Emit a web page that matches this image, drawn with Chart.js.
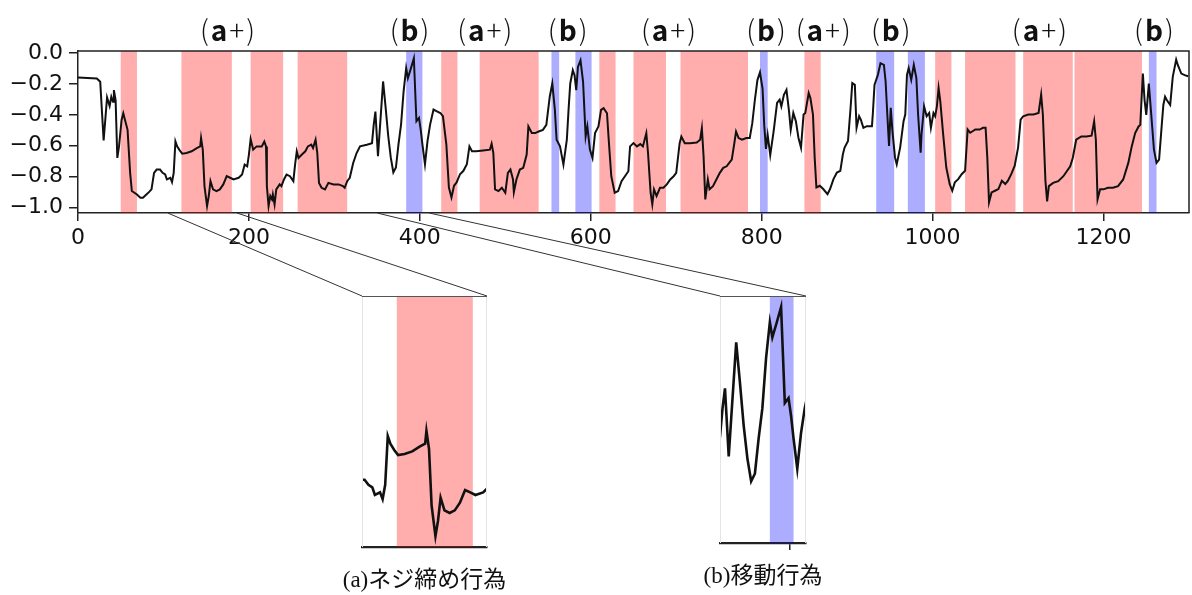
<!DOCTYPE html>
<html>
<head>
<meta charset="utf-8">
<script src="https://cdn.jsdelivr.net/npm/chart.js@4.4.1/dist/chart.umd.min.js"></script>
<style>
  html, body { margin: 0; padding: 0; background: #fff; }
  #wrap { position: relative; width: 1192px; height: 595px; overflow: hidden; }
  canvas { position: absolute; }
</style>
</head>
<body>
<div id="wrap">
  <canvas id="main" width="1192" height="595" style="left:0;top:0"></canvas>
  <canvas id="insetA" width="133" height="267" style="left:358px;top:292px"></canvas>
  <canvas id="insetB" width="94" height="263" style="left:716px;top:292px"></canvas>
</div>
<script>
// sample index / value of the trace
const seriesX = [
  0, 22, 26, 30, 34, 37, 39, 41, 42, 44,
  46, 48, 51, 53, 55, 58, 61, 63, 69, 73,
  76, 80, 83, 86, 89, 92, 96, 99, 102, 104,
  108, 110, 112, 114, 116, 119, 122, 127, 133, 139,
  143, 144, 146, 148, 151, 153, 155, 158, 162, 166,
  170, 174, 178, 182, 188, 192, 195, 198, 200, 202,
  205, 209, 215, 218, 220, 221, 223, 225, 227, 228,
  230, 232, 236, 238, 241, 244, 248, 252, 254, 256,
  258, 262, 266, 269, 273, 275, 278, 280, 282, 285,
  289, 293, 299, 305, 310, 312, 315, 318, 322, 326,
  330, 338, 344, 346, 348, 351, 353, 357, 360, 363,
  366, 369, 372, 375, 378, 381, 384, 386, 389, 393,
  396, 399, 401, 403, 406, 409, 412, 416, 420, 424,
  427, 431, 434, 437, 440, 443, 447, 451, 455, 458,
  461, 466, 474, 482, 484, 486, 488, 492, 496, 500,
  503, 506, 509, 510, 513, 517, 521, 525, 527, 531,
  535, 539, 544, 548, 552, 555, 558, 560, 564, 568,
  572, 574, 576, 579, 581, 583, 585, 588, 591, 594,
  596, 599, 602, 605, 609, 612, 615, 619, 621, 624,
  628, 632, 636, 640, 644, 646, 650, 654, 658, 661,
  665, 667, 670, 672, 674, 677, 681, 685, 689, 693,
  697, 700, 704, 706, 710, 716, 724, 728, 730, 732,
  734, 737, 739, 743, 747, 751, 755, 759, 762, 765,
  768, 770, 773, 777, 782, 786, 789, 792, 795, 798,
  801, 803, 805, 807, 810, 814, 818, 821, 823, 826,
  829, 832, 834, 837, 840, 843, 846, 849, 851, 855,
  857, 860, 862, 864, 868, 872, 877, 880, 884, 888,
  892, 895, 897, 901, 904, 906, 909, 911, 914, 916,
  919, 923, 929, 930, 932, 934, 936, 939, 943, 945,
  947, 949, 951, 953, 956, 958, 962, 966, 968, 970,
  972, 975, 978, 981, 983, 986, 987, 990, 993, 996,
  998, 1001, 1003, 1005, 1007, 1009, 1012, 1016, 1020, 1023,
  1026, 1030, 1034, 1038, 1041, 1044, 1050, 1055, 1059, 1062,
  1064, 1066, 1069, 1073, 1077, 1081, 1085, 1088, 1092, 1096,
  1100, 1103, 1106, 1112, 1118, 1124, 1127, 1129, 1132, 1134,
  1136, 1141, 1147, 1153, 1157, 1161, 1164, 1168, 1174, 1180,
  1186, 1189, 1191, 1193, 1196, 1200, 1205, 1211, 1217, 1223,
  1229, 1233, 1237, 1241, 1243, 1246, 1248, 1250, 1253, 1256,
  1259, 1262, 1265, 1268, 1270, 1272, 1274, 1278, 1281, 1285,
  1287, 1291, 1295, 1299
];
const seriesY = [
  -0.158, -0.165, -0.186, -0.566, -0.287, -0.343, -0.283, -0.315, -0.24, -0.304,
  -0.679, -0.604, -0.433, -0.39, -0.433, -0.497, -0.775, -0.893, -0.915, -0.936,
  -0.936, -0.915, -0.9, -0.882, -0.775, -0.754, -0.754, -0.775, -0.786, -0.818,
  -0.807, -0.835, -0.775, -0.572, -0.604, -0.63, -0.651, -0.647, -0.636, -0.615,
  -0.604, -0.55, -0.625, -0.861, -0.99, -0.925, -0.829, -0.882, -0.893, -0.882,
  -0.85, -0.797, -0.807, -0.818, -0.807, -0.786, -0.722, -0.733, -0.657, -0.557,
  -0.625, -0.604, -0.604, -0.572, -0.604, -0.861, -0.99, -0.925, -0.947, -0.915,
  -0.979, -0.882, -0.85, -0.861, -0.818, -0.786, -0.797, -0.829, -0.722, -0.636,
  -0.679, -0.657, -0.636, -0.604, -0.593, -0.615, -0.561, -0.647, -0.84, -0.872,
  -0.882, -0.84, -0.85, -0.85, -0.861, -0.872, -0.829, -0.807, -0.711, -0.647,
  -0.604, -0.593, -0.583, -0.465, -0.379, -0.668, -0.505, -0.184, -0.355, -0.537,
  -0.677, -0.773, -0.741, -0.591, -0.463, -0.248, -0.098, -0.163, -0.109, -0.034,
  -0.441, -0.42, -0.495, -0.591, -0.72, -0.569, -0.463, -0.366, -0.377, -0.388,
  -0.409, -0.591, -0.87, -0.934, -0.859, -0.837, -0.784, -0.762, -0.72, -0.604,
  -0.636, -0.636, -0.63, -0.625, -0.587, -0.647, -0.882, -0.893, -0.872, -0.904,
  -0.775, -0.754, -0.818, -0.9, -0.818, -0.754, -0.743, -0.657, -0.475, -0.518,
  -0.518, -0.508, -0.497, -0.465, -0.283, -0.197, -0.368, -0.561, -0.604, -0.722,
  -0.561, -0.368, -0.197, -0.111, -0.143, -0.24, -0.09, -0.047, -0.186, -0.54,
  -0.475, -0.625, -0.679, -0.518, -0.475, -0.368, -0.357, -0.39, -0.561, -0.797,
  -0.904, -0.893, -0.829, -0.797, -0.765, -0.604, -0.583, -0.604, -0.589, -0.604,
  -0.518, -0.647, -0.904, -0.979, -0.882, -0.925, -0.872, -0.872, -0.85, -0.818,
  -0.797, -0.775, -0.583, -0.54, -0.583, -0.583, -0.579, -0.561, -0.486, -0.668,
  -0.947, -0.818, -0.882, -0.861, -0.818, -0.775, -0.743, -0.733, -0.711, -0.69,
  -0.583, -0.508, -0.55, -0.561, -0.55, -0.55, -0.454, -0.304, -0.175, -0.125,
  -0.23, -0.47, -0.62, -0.53, -0.66, -0.505, -0.323, -0.302, -0.345, -0.27,
  -0.238, -0.377, -0.495, -0.388, -0.441, -0.548, -0.612, -0.398, -0.388, -0.259,
  -0.291, -0.398, -0.677, -0.87, -0.859, -0.88, -0.913, -0.88, -0.816, -0.773,
  -0.762, -0.655, -0.612, -0.569, -0.355, -0.195, -0.206, -0.484, -0.409, -0.431,
  -0.484, -0.473, -0.473, -0.398, -0.206, -0.173, -0.141, -0.066, -0.077, -0.184,
  -0.398, -0.602, -0.355, -0.505, -0.677, -0.72, -0.612, -0.441, -0.398, -0.141,
  -0.098, -0.173, -0.077, -0.163, -0.398, -0.645, -0.527, -0.345, -0.409, -0.388,
  -0.484, -0.388, -0.409, -0.345, -0.227, -0.313, -0.505, -0.741, -0.848, -0.891,
  -0.837, -0.816, -0.784, -0.762, -0.495, -0.516, -0.495, -0.495, -0.484, -0.484,
  -0.677, -0.966, -0.902, -0.891, -0.88, -0.827, -0.848, -0.827, -0.784, -0.73,
  -0.612, -0.431, -0.409, -0.398, -0.398, -0.388, -0.27, -0.398, -0.827, -0.96,
  -0.861, -0.84, -0.829, -0.797, -0.765, -0.733, -0.679, -0.561, -0.54, -0.54,
  -0.535, -0.443, -0.561, -0.947, -0.882, -0.882, -0.872, -0.872, -0.861, -0.818,
  -0.711, -0.604, -0.518, -0.475, -0.465, -0.133, -0.304, -0.4, -0.197, -0.411,
  -0.625, -0.711, -0.69, -0.475, -0.336, -0.283, -0.304, -0.336, -0.154, -0.043,
  -0.079, -0.133, -0.143, -0.15
];

// shaded intervals: (a+) screw tightening in red, (b) moving in blue
const redStart  = [50, 121, 202, 257, 425, 470, 610, 650, 705, 850, 1003, 1038, 1106, 1166];
const redEnd    = [69, 180, 240, 315, 444, 539, 629, 688, 784, 869, 1022, 1097, 1164, 1245];
const blueStart = [384, 554, 582, 798, 934, 971, 1253];
const blueEnd   = [403, 563, 601, 807, 955, 991, 1262];

// labels above the plot
const tagText = ["(a+)", "(b)", "(a+)", "(b)", "(a+)", "(b)", "(a+)", "(b)", "(a+)", "(b)"];
const tagX    = [175, 388, 476, 573, 691, 805, 872, 951, 1125, 1259];

// axes
const xTicks = [0, 200, 400, 600, 800, 1000, 1200];
const yTicks = [-1.0, -0.8, -0.6, -0.4, -0.2, 0.0];
const xRange = [0, 1300];
const yRange = [-1.035, 0.013];

// zoomed views and where their guide lines leave the main axis
const zoomA = [94, 191];
const zoomB = [344, 413];
const linkA = [105, 186];
const linkB = [350, 411];
const captions = ["(a)ネジ締め行為", "(b)移動行為"];

const points = seriesX.map((x, i) => ({ x: x, y: seriesY[i] }));

const bandPlugin = {
  id: "bands",
  beforeDatasetsDraw(chart) {
    const { ctx, chartArea: a, scales: { x } } = chart;
    ctx.save();
    ctx.beginPath();
    ctx.rect(a.left, a.top, a.right - a.left, a.bottom - a.top);
    ctx.clip();
    const fill = (starts, ends, color) => {
      ctx.fillStyle = color;
      starts.forEach((s, i) => {
        const x0 = x.getPixelForValue(s);
        const x1 = x.getPixelForValue(ends[i]);
        ctx.fillRect(x0, a.top, x1 - x0, a.bottom - a.top);
      });
    };
    fill(redStart, redEnd, "rgba(255,0,0,0.32)");
    fill(blueStart, blueEnd, "rgba(0,0,255,0.32)");
    ctx.restore();
  },
};

const insetFrame = {
  id: "insetFrame",
  afterDraw(chart) {
    const { ctx, chartArea: a } = chart;
    ctx.save();
    ctx.lineWidth = 1;
    ctx.strokeStyle = "#e4e4e4";
    ctx.beginPath();
    ctx.moveTo(a.left + 0.5, a.top);
    ctx.lineTo(a.left + 0.5, a.bottom);
    ctx.moveTo(a.right - 0.5, a.top);
    ctx.lineTo(a.right - 0.5, a.bottom);
    ctx.stroke();
    ctx.strokeStyle = "#555";
    ctx.beginPath();
    ctx.moveTo(a.left, a.top + 0.5);
    ctx.lineTo(a.right, a.top + 0.5);
    ctx.stroke();
    ctx.restore();
  },
};

function makeInset(id, range, ticks) {
  return new Chart(document.getElementById(id), {
    type: "line",
    data: {
      datasets: [{
        data: points,
        borderColor: "#111",
        borderWidth: 2.6,
        pointRadius: 0,
        tension: 0,
      }],
    },
    options: {
      responsive: false,
      animation: false,
      events: [],
      layout: { padding: { left: 4, right: 4, top: 4, bottom: 0 } },
      plugins: { legend: { display: false }, tooltip: { enabled: false } },
      scales: {
        x: {
          type: "linear",
          min: range[0],
          max: range[1],
          afterBuildTicks: (s) => { s.ticks = ticks.map((v) => ({ value: v })); },
          afterFit: (s) => { s.height = 12; },
          ticks: { display: false },
          grid: { drawOnChartArea: false, tickLength: 7, color: "#222", lineWidth: 1.5 },
          border: { display: true, color: "#222", width: 2.2 },
        },
        y: { display: false, min: yRange[0], max: yRange[1] },
      },
    },
    plugins: [bandPlugin, insetFrame],
  });
}

const insetA = makeInset("insetA", zoomA, []);
const insetB = makeInset("insetB", zoomB, [400]);

function drawTag(ctx, text, cx, baseline) {
  const gap = 2;
  const parts = [...text].map((ch) => ({
    ch: ch,
    font: /[a-z]/.test(ch) ? 'bold 28px "Noto Sans CJK JP"' : '300 28px "Noto Sans CJK JP"',
  }));
  let total = gap * (parts.length - 1);
  parts.forEach((p) => { ctx.font = p.font; p.w = ctx.measureText(p.ch).width; total += p.w; });
  let x = cx - total / 2;
  parts.forEach((p) => {
    ctx.font = p.font;
    ctx.fillText(p.ch, x, baseline);
    x += p.w + gap;
  });
}

const overlay = {
  id: "overlay",
  afterDraw(chart) {
    const { ctx, chartArea: a, scales: { x } } = chart;
    ctx.save();
    // frame top / right
    ctx.strokeStyle = "#222";
    ctx.lineWidth = 1.5;
    ctx.beginPath();
    ctx.moveTo(a.left, a.top);
    ctx.lineTo(a.right, a.top);
    ctx.lineTo(a.right, a.bottom);
    ctx.stroke();

    // labels over the plot
    ctx.fillStyle = "#111";
    ctx.textAlign = "left";
    ctx.textBaseline = "alphabetic";
    tagText.forEach((t, i) => drawTag(ctx, t, x.getPixelForValue(tagX[i]), 41));

    // guide lines to the zoomed views
    ctx.strokeStyle = "#333";
    ctx.lineWidth = 1;
    [[insetA, "insetA", linkA], [insetB, "insetB", linkB]].forEach(([c, id, link], k) => {
      const el = document.getElementById(id);
      const ia = c.chartArea;
      const left = el.offsetLeft + ia.left;
      const right = el.offsetLeft + ia.right;
      const top = el.offsetTop + ia.top;
      const bottom = el.offsetTop + ia.bottom;
      ctx.beginPath();
      ctx.moveTo(x.getPixelForValue(link[0]), a.bottom);
      ctx.lineTo(left, top);
      ctx.moveTo(x.getPixelForValue(link[1]), a.bottom);
      ctx.lineTo(right, top);
      ctx.stroke();

      ctx.font = '23px "Liberation Serif", "Noto Sans CJK JP"';
      ctx.textAlign = "center";
      ctx.textBaseline = "middle";
      ctx.fillText(captions[k], (left + right) / 2, bottom + 34);
    });
    ctx.restore();
  },
};

const tickFont = { family: "DejaVu Sans", size: 22 };

new Chart(document.getElementById("main"), {
  type: "line",
  data: {
    datasets: [{
      data: points,
      borderColor: "#111",
      borderWidth: 2,
      pointRadius: 0,
      tension: 0,
    }],
  },
  options: {
    responsive: false,
    animation: false,
    events: [],
    layout: { padding: { left: 0, top: 51, right: 3, bottom: 342 } },
    plugins: { legend: { display: false }, tooltip: { enabled: false } },
    scales: {
      x: {
        type: "linear",
        min: xRange[0],
        max: xRange[1],
        afterBuildTicks: (s) => { s.ticks = xTicks.map((v) => ({ value: v })); },
        afterFit: (s) => { s.height = 40; },
        ticks: {
          font: tickFont,
          color: "#111",
          padding: 4,
          maxRotation: 0,
          autoSkip: false,
          callback: (v) => String(v),
        },
        grid: { drawOnChartArea: false, tickLength: 8, color: "#222", lineWidth: 1.5 },
        border: { color: "#222", width: 1.5 },
      },
      y: {
        min: yRange[0],
        max: yRange[1],
        afterBuildTicks: (s) => { s.ticks = yTicks.map((v) => ({ value: v })); },
        afterFit: (s) => { s.width = 78; },
        ticks: {
          font: tickFont,
          color: "#111",
          padding: 6,
          autoSkip: false,
          callback: (v) => (v < -1e-9 ? "\u2212" : "") + Math.abs(v).toFixed(1),
        },
        grid: { drawOnChartArea: false, tickLength: 9, color: "#222", lineWidth: 1.5 },
        border: { color: "#222", width: 1.5 },
      },
    },
  },
  plugins: [bandPlugin, overlay],
});
</script>
</body>
</html>
